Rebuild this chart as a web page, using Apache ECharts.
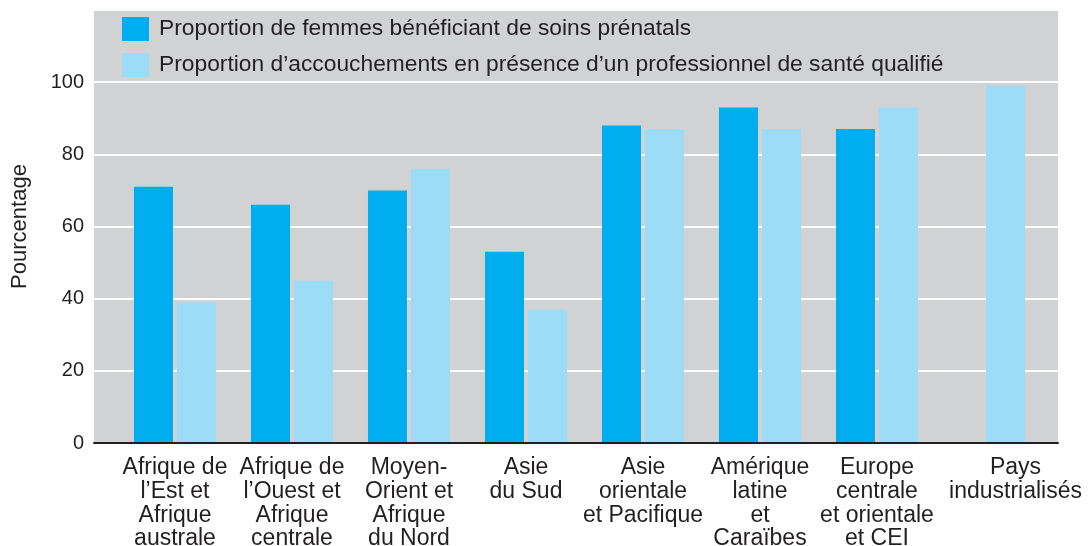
<!DOCTYPE html>
<html>
<head>
<meta charset="utf-8">
<script src="https://cdn.jsdelivr.net/npm/echarts@6/dist/echarts.min.js"></script>
<style>
html,body{margin:0;padding:0;background:#fff;}
#chart{width:1089px;height:546px;}
</style>
</head>
<body>
<div id="chart"></div>
<script>
var categories = [
  "Afrique de\nl\u2019Est et\nAfrique\naustrale",
  "Afrique de\nl\u2019Ouest et\nAfrique\ncentrale",
  "Moyen-\nOrient et\nAfrique\ndu Nord",
  "Asie\ndu Sud",
  "Asie\norientale\net Pacifique",
  "Am\u00e9rique\nlatine\net\nCara\u00efbes",
  "Europe\ncentrale\net orientale\net CEI",
  "Pays\nindustrialis\u00e9s"
];
var seriesNames = [
  "Proportion de femmes b\u00e9n\u00e9ficiant de soins pr\u00e9natals",
  "Proportion d\u2019accouchements en pr\u00e9sence d\u2019un professionnel de sant\u00e9 qualifi\u00e9"
];
var prenatal = [71, 66, 70, 53, 88, 93, 87, null];
var delivery = [39, 45, 76, 37, 87, 87, 93, 99];
var yTicks = [0, 20, 40, 60, 80, 100];

(function () {
var DARK = '#00aeef', LIGHT = '#9ddcf7', TXT = '#231f20', FONT = 'Liberation Sans, Arial, sans-serif';
var nMain = 7;
var gTop = 10, gBottom = 546 - 443;

var chart = echarts.init(document.getElementById('chart'), null, {renderer: 'canvas'});
function yCommon(show, idx) {
  return {
    gridIndex: idx,
    type: 'value', min: 0, max: 120, interval: 20,
    axisLine: {show: false}, axisTick: {show: false},
    axisLabel: {show: show, color: TXT, fontSize: 20, fontFamily: FONT, margin: 10,
      formatter: function (v) { return yTicks.indexOf(v) >= 0 ? String(v) : ''; }},
    splitLine: {show: show, lineStyle: {color: '#ffffff', width: 2}}
  };
}
function catLabel(pad) {
  return {color: TXT, fontSize: 23, fontFamily: FONT, lineHeight: 23.7, margin: 13, interval: 0, padding: pad};
}
var y0 = yCommon(true, 0);
y0.name = 'Pourcentage';
y0.nameLocation = 'middle';
y0.nameGap = 63;
y0.nameTextStyle = {color: TXT, fontSize: 22, fontFamily: FONT};

var option = {
  animation: false,
  backgroundColor: '#ffffff',
  grid: [
    {left: 94, right: 1089 - 1058, top: gTop, bottom: gBottom, show: true, backgroundColor: '#d1d2d4', borderWidth: 0,
      containLabel: false, outerBoundsMode: 'none'},
    {left: 116.5, width: 117 * nMain, top: gTop, bottom: gBottom, containLabel: false, outerBoundsMode: 'none'},
    {left: 966, width: 79, top: gTop, bottom: gBottom, containLabel: false, outerBoundsMode: 'none'}
  ],
  legend: {
    orient: 'vertical', left: 122, top: 17, padding: 0, itemWidth: 27, itemHeight: 24, itemGap: 12,
    icon: 'rect', data: seriesNames,
    textStyle: {color: TXT, fontSize: 22.8, fontFamily: FONT, padding: [0, 0, 0, 5]}
  },
  xAxis: [
    {gridIndex: 0, type: 'category', data: [''], axisTick: {show: false}, axisLabel: {show: false},
      axisLine: {show: true, onZero: false, lineStyle: {color: TXT, width: 2}}, z: 10},
    {gridIndex: 1, type: 'category', data: categories.slice(0, nMain), axisTick: {show: false},
      axisLine: {show: false}, axisLabel: catLabel([0, 0, 0, 0])},
    {gridIndex: 2, type: 'category', data: categories.slice(nMain), axisTick: {show: false},
      axisLine: {show: false}, axisLabel: catLabel([0, 0, 0, 20])}
  ],
  yAxis: [y0, yCommon(false, 1), yCommon(false, 2)],
  series: [
    {name: seriesNames[0], type: 'bar', xAxisIndex: 1, yAxisIndex: 1, data: prenatal.slice(0, nMain),
      barWidth: 39, barGap: '10.3%', itemStyle: {color: DARK}, z: 5},
    {name: seriesNames[1], type: 'bar', xAxisIndex: 1, yAxisIndex: 1, data: delivery.slice(0, nMain),
      barWidth: 39, barGap: '10.3%', itemStyle: {color: LIGHT}, z: 5},
    {name: seriesNames[1], type: 'bar', xAxisIndex: 2, yAxisIndex: 2, data: delivery.slice(nMain),
      barWidth: 39, itemStyle: {color: LIGHT}, z: 5}
  ]
};
chart.setOption(option);
})();
</script>
</body>
</html>
